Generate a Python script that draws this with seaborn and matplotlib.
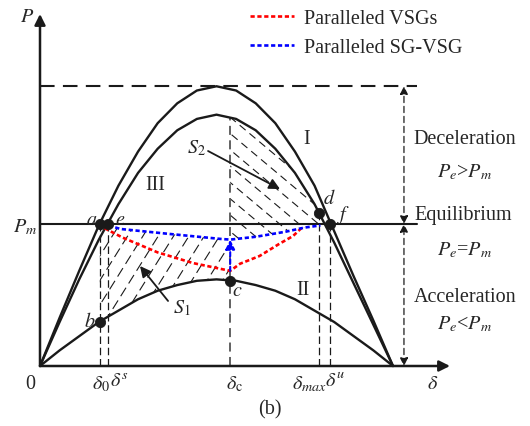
import numpy as np
import matplotlib
matplotlib.use('Agg')
import matplotlib.pyplot as plt
from matplotlib.patches import Polygon
import seaborn as sns

# power-angle curves (delta in degrees, P in units of Pm)
delta = [0, 10, 20, 30, 40, 50, 60, 70, 80, 90, 100, 110, 120, 130, 140, 150, 160, 170, 180]
p_I = [0, 0.34, 0.67, 0.99, 1.27, 1.51, 1.71, 1.85, 1.94, 1.97, 1.94, 1.85, 1.71, 1.51, 1.27, 0.95, 0.63, 0.32, 0]
p_III = [0, 0.31, 0.61, 0.89, 1.14, 1.36, 1.53, 1.66, 1.74, 1.77, 1.74, 1.66, 1.53, 1.36, 1.14, 0.87, 0.58, 0.29, 0]
p_II = [0, 0.11, 0.21, 0.31, 0.39, 0.47, 0.53, 0.57, 0.60, 0.61, 0.60, 0.57, 0.53, 0.47, 0.39, 0.31, 0.21, 0.11, 0]
p_max = 1.97
p_m = 1.0

# trajectories
vsg_delta = [33, 42, 60, 78, 97, 102, 112, 122, 129, 134]
vsg_p = [0.97, 0.905, 0.80, 0.725, 0.67, 0.72, 0.775, 0.86, 0.915, 0.98]
sgvsg_delta = [35, 41, 66, 92, 97, 110, 125, 135, 143]
sgvsg_p = [0.99, 0.965, 0.93, 0.895, 0.89, 0.91, 0.945, 0.975, 0.99]

# operating points
pt_names = ['a', 'e', 'b', 'c', 'd', 'f']
pt_delta = [30.5, 34.5, 30.5, 97, 142.3, 148]
pt_p = [1.0, 1.0, 0.31, 0.60, 1.078, 1.0]
d0, ds, dc, dmax, du = 30.5, 34.5, 97, 142.3, 148

# pixel scale of the drawing (px per degree, px per unit P)
SX, SY = 1.961, 142.0


def hatch(ax, xs, ys, angle, spacing, dash):
    """Dashed hatch lines clipped to a polygon given in data coords."""
    patch = Polygon(np.column_stack([xs, ys]), closed=True, fc='none', ec='none')
    ax.add_patch(patch)
    X = np.asarray(xs) * SX
    Y = np.asarray(ys) * SY
    th = np.radians(angle)
    ux, uy = np.cos(th), np.sin(th)
    nx, ny = -uy, ux
    proj = X * nx + Y * ny
    span = np.hypot(np.ptp(X), np.ptp(Y))
    cx, cy = X.mean(), Y.mean()
    c0 = cx * nx + cy * ny
    for off in np.arange(proj.min() + spacing / 2, proj.max(), spacing):
        t0 = off - c0
        px = cx + t0 * nx + np.array([-span, span]) * ux
        py = cy + t0 * ny + np.array([-span, span]) * uy
        ln, = ax.plot(px / SX, py / SY, color='k', lw=0.8, ls=(0, dash))
        ln.set_clip_path(patch)


sns.set_theme(style='white')
plt.rcParams['font.family'] = ['Liberation Serif', 'DejaVu Serif']
plt.rcParams['mathtext.fontset'] = 'stix'

fig = plt.figure(figsize=(5.3, 4.27), dpi=100)
ax = fig.add_axes([0, 0, 1, 1])
ax.set_xlim(-40 / SX, 490 / SX)
ax.set_ylim(-60 / SY, 367 / SY)
ax.axis('off')

FS = 14.5

# hatched areas S1 and S2
s1_x = list(np.linspace(d0, dc, 15)) + [dc] + sgvsg_delta[:5][::-1] + [d0]
s1_y = list(np.interp(np.linspace(d0, dc, 15), delta, p_II)) + [sgvsg_p[4]] + sgvsg_p[:5][::-1] + [p_m]
hatch(ax, s1_x, s1_y, 58, 13, (9, 4.5))
top_x = np.linspace(dc, dmax, 15)
s2_x = list(top_x) + [143] + sgvsg_delta[4:][::-1]
s2_y = list(np.interp(top_x, delta, p_III)) + [0.99] + sgvsg_p[4:][::-1]
hatch(ax, s2_x, s2_y, -40, 12.5, (7, 4.5))

# reference lines
ax.plot([0, 192], [p_max, p_max], color='k', lw=1.5, ls=(0, (7, 4)))
ax.plot([0, 192], [p_m, p_m], color='k', lw=1.5)
for x0, top in [(d0, p_m), (ds, p_m), (dmax, pt_p[4]), (du, p_m)]:
    ax.plot([x0, x0], [0, top], color='k', lw=0.9, ls=(0, (6, 3)))
ax.plot([dc, dc], [0, float(np.interp(dc, delta, p_III))], color='#555555', lw=1.3, ls=(0, (5, 3)))

# power-angle curves
for p in (p_I, p_III, p_II):
    sns.lineplot(x=delta, y=p, color='k', lw=1.7, ax=ax)

sns.lineplot(x=vsg_delta, y=vsg_p, color='red', lw=1.9, ls=(0, (1.6, 1.0)),
             label='Paralleled VSGs', ax=ax)
sns.lineplot(x=sgvsg_delta, y=sgvsg_p, color='blue', lw=1.9, ls=(0, (1.6, 1.0)),
             label='Paralleled SG-VSG', ax=ax)
ax.annotate('', xy=(dc, sgvsg_p[4]), xytext=(dc, vsg_p[4]),
            arrowprops=dict(arrowstyle='-|>', color='blue', lw=1.5, ls=(0, (2, 1.5)),
                            mutation_scale=14, shrinkA=0, shrinkB=0))

sns.scatterplot(x=pt_delta, y=pt_p, color='k', s=55, edgecolor='k', zorder=5, ax=ax)

# axes with arrows
arrow = dict(arrowstyle='-|>', color='k', lw=1.8, mutation_scale=16, shrinkA=0, shrinkB=0)
ax.annotate('', xy=(0, 352 / SY), xytext=(0, 0), arrowprops=arrow)
ax.annotate('', xy=(410 / SX, 0), xytext=(0, 0), arrowprops=arrow)

# region arrows on the right
darr = dict(arrowstyle='<|-|>', color='k', lw=0.9, ls=(0, (5, 3)), mutation_scale=12,
            shrinkA=0, shrinkB=0)
ax.annotate('', xy=(185.6, p_max), xytext=(185.6, p_m), arrowprops=darr)
ax.annotate('', xy=(185.6, p_m), xytext=(185.6, 0), arrowprops=darr)

# area arrows
sarr = dict(arrowstyle='-|>', color='k', lw=1.3, mutation_scale=16, shrinkA=0, shrinkB=0)
ax.annotate('', xy=(51.0, 0.704), xytext=(65.3, 0.458), arrowprops=sarr)
ax.annotate('', xy=(122.4, 1.246), xytext=(85.7, 1.514), arrowprops=sarr)

# text
ax.text(-6.6, 2.46, '$P$', fontsize=FS, ha='center', va='center')
ax.text(-7.6, 0.98, '$P_m$', fontsize=FS, ha='center', va='center')
ax.text(-5.1, -0.12, '0', fontsize=FS, ha='center', va='center')
ax.text(31.0, -0.12, r'$\delta_0$', fontsize=FS, ha='center', va='center')
ax.text(40.5, -0.11, r'$\delta^s$', fontsize=FS, ha='center', va='center')
ax.text(99.0, -0.12, r'$\delta_\mathrm{c}$', fontsize=FS, ha='center', va='center')
ax.text(137.5, -0.12, r'$\delta_{max}$', fontsize=FS, ha='center', va='center')
ax.text(150.5, -0.11, r'$\delta^u$', fontsize=FS, ha='center', va='center')
ax.text(200.4, -0.12, r'$\delta$', fontsize=FS, ha='center', va='center')
ax.text(117.3, -0.30, '(b)', fontsize=FS, ha='center', va='center')

for name, x, y in [('a', 26.5, 1.035), ('e', 40.8, 1.035), ('b', 25.5, 0.31),
                   ('c', 100.5, 0.53), ('d', 147.3, 1.18), ('f', 154.8, 1.07)]:
    ax.text(x, y, '$%s$' % name, fontsize=FS, ha='center', va='center')
ax.text(136.2, 1.60, 'I', fontsize=FS, ha='center', va='center')
ax.text(134.1, 0.54, 'II', fontsize=FS, ha='center', va='center')
ax.text(58.6, 1.28, 'III', fontsize=FS, ha='center', va='center')
ax.text(80.0, 1.54, '$S_2$', fontsize=FS, ha='center', va='center')
ax.text(72.4, 0.415, '$S_1$', fontsize=FS, ha='center', va='center')

ax.text(216.7, 1.60, 'Deceleration', fontsize=FS, ha='center', va='center')
ax.text(216.7, 1.37, '$P_e$>$P_m$', fontsize=FS, ha='center', va='center')
ax.text(215.7, 1.07, 'Equilibrium', fontsize=FS, ha='center', va='center')
ax.text(216.7, 0.82, '$P_e$=$P_m$', fontsize=FS, ha='center', va='center')
ax.text(216.7, 0.49, 'Acceleration', fontsize=FS, ha='center', va='center')
ax.text(216.7, 0.30, '$P_e$<$P_m$', fontsize=FS, ha='center', va='center')

ax.legend(loc='upper left', bbox_to_anchor=(250 / 530, 1 - 10 / 427), frameon=False,
          fontsize=FS, handlelength=2.2, handletextpad=0.5, labelspacing=0.5,
          borderpad=0, borderaxespad=0)

fig.savefig('out.png', dpi=100)
